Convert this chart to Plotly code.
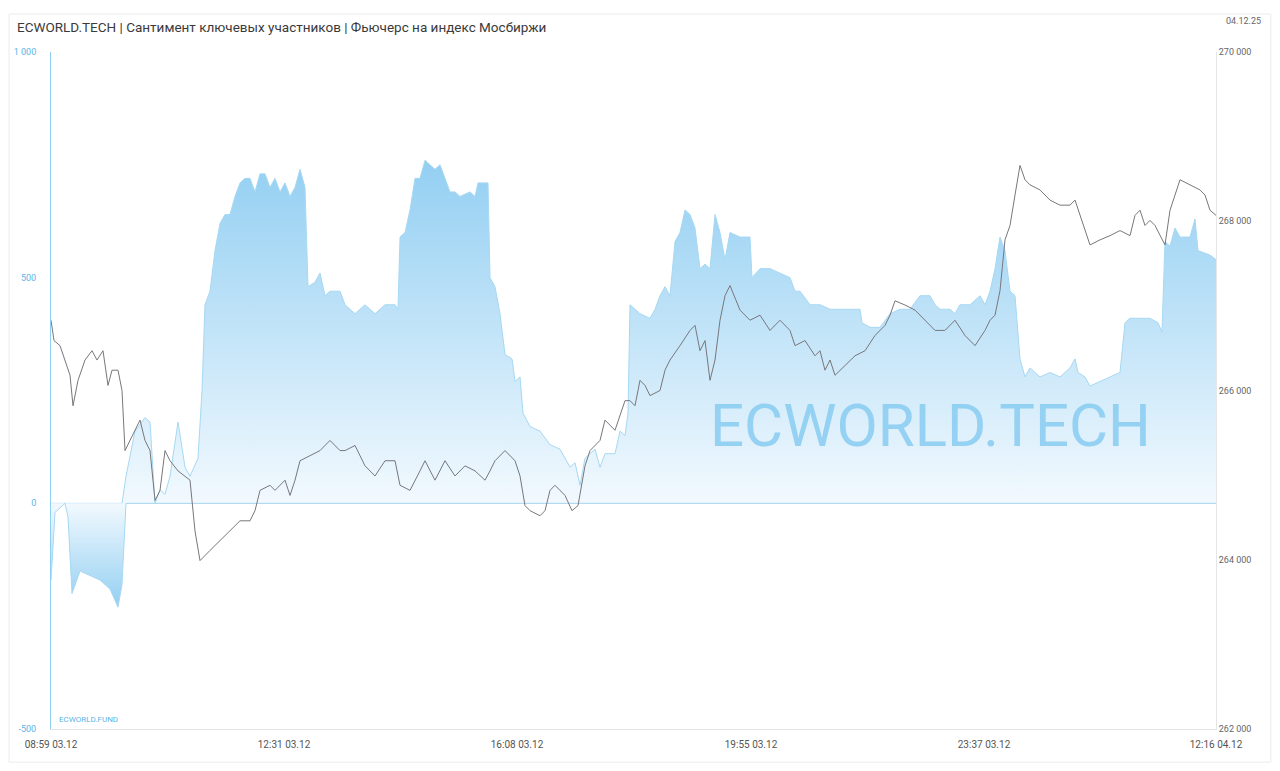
import plotly.graph_objects as go

# bar index along the time axis (ticks every 233 bars)
tick_bars = [0, 233, 466, 700, 933, 1165]
tick_labels = ["08:59 03.12", "12:31 03.12", "16:08 03.12", "19:55 03.12", "23:37 03.12", "12:16 04.12"]

sent_x = [0, 4, 9, 14, 17, 21, 29, 39, 49, 59, 67, 71, 75, 84, 94, 99, 104, 109, 114, 119, 127, 134, 139, 147,
          151, 154, 159, 164, 169, 174, 179, 184, 189, 194, 199, 204, 209, 214, 219, 224, 229, 234, 239, 244,
          249, 254, 257, 264, 269, 274, 279, 289, 294, 304, 314, 324, 334, 344, 347, 349, 354, 359, 364, 369,
          374, 379, 384, 389, 394, 399, 404, 409, 419, 424, 427, 437, 439, 444, 449, 454, 461, 464, 469, 472,
          479, 489, 499, 509, 519, 524, 529, 534, 544, 549, 554, 564, 569, 574, 577, 579, 589, 599, 604, 609,
          614, 619, 624, 629, 634, 639, 644, 649, 654, 659, 664, 669, 674, 679, 689, 699, 701, 709, 719, 729,
          739, 744, 749, 759, 769, 779, 789, 799, 809, 811, 819, 829, 839, 849, 859, 869, 879, 884, 889, 899,
          904, 909, 919, 929, 934, 939, 944, 949, 954, 959, 964, 969, 974, 979, 989, 999, 1009, 1019, 1024,
          1027, 1034, 1039, 1049, 1059, 1069, 1074, 1079, 1089, 1099, 1107, 1111, 1114, 1119, 1124, 1129,
          1139, 1144, 1147, 1159, 1165]
sentiment = [-170, -20, -10, 0, -30, -200, -150, -160, -170, -190, -230, -180, 60, 160, 190, 180, 0, 30, 20,
             60, 180, 80, 60, 100, 250, 440, 470, 560, 620, 640, 640, 680, 710, 720, 720, 690, 730, 730, 700,
             720, 690, 710, 680, 700, 740, 700, 480, 490, 510, 460, 470, 470, 440, 420, 440, 420, 440, 440,
             430, 590, 600, 650, 720, 720, 760, 750, 740, 750, 720, 690, 690, 680, 690, 680, 710, 710, 500,
             480, 420, 330, 320, 270, 280, 200, 170, 160, 130, 120, 80, 90, 40, 100, 120, 80, 110, 110, 160,
             150, 200, 440, 420, 410, 430, 460, 480, 460, 580, 600, 650, 640, 610, 520, 530, 520, 640, 600,
             540, 600, 590, 590, 500, 520, 520, 510, 500, 470, 470, 440, 440, 430, 430, 430, 430, 400, 390,
             390, 420, 430, 430, 460, 460, 440, 430, 430, 420, 440, 440, 460, 440, 470, 520, 590, 560, 470,
             460, 320, 280, 300, 280, 290, 280, 300, 320, 290, 280, 260, 270, 280, 290, 400, 410, 410, 410,
             400, 380, 580, 570, 610, 590, 590, 630, 560, 550, 540]

price_x = [0, 3, 9, 14, 19, 22, 27, 34, 41, 46, 52, 57, 61, 67, 71, 74, 79, 84, 89, 94, 99, 104, 109, 114,
           119, 127, 134, 139, 144, 149, 159, 169, 179, 189, 199, 204, 209, 219, 224, 234, 239, 244, 249, 259,
           269, 279, 289, 294, 304, 314, 324, 334, 344, 349, 359, 369, 374, 384, 394, 404, 414, 424, 434, 439,
           444, 454, 464, 469, 474, 479, 489, 494, 499, 504, 514, 521, 527, 534, 539, 549, 554, 564, 574, 579,
           584, 589, 594, 599, 609, 614, 619, 629, 639, 644, 649, 654, 659, 664, 669, 674, 679, 689, 699, 709,
           719, 729, 739, 744, 754, 764, 769, 774, 779, 784, 794, 804, 814, 824, 834, 839, 844, 854, 864, 874,
           884, 894, 904, 914, 924, 934, 939, 944, 949, 954, 959, 964, 969, 974, 979, 989, 999, 1009, 1019,
           1024, 1029, 1039, 1049, 1059, 1069, 1079, 1084, 1089, 1094, 1099, 1104, 1109, 1114, 1119, 1129,
           1139, 1149, 1154, 1159, 1165]
price = [266830, 266590, 266530, 266360, 266180, 265820, 266120, 266360, 266470, 266360, 266470, 266060,
         266240, 266240, 266000, 265290, 265410, 265530, 265650, 265410, 265290, 264700, 264820, 265290,
         265170, 265050, 264990, 264940, 264340, 263990, 264110, 264230, 264340, 264460, 264460, 264580,
         264820, 264880, 264820, 264940, 264760, 264940, 265170, 265230, 265290, 265410, 265290, 265290,
         265350, 265110, 264990, 265170, 265170, 264880, 264820, 265050, 265170, 264940, 265170, 264990,
         265110, 265050, 264940, 265050, 265170, 265290, 265170, 264990, 264640, 264580, 264520, 264580,
         264820, 264880, 264760, 264580, 264640, 265110, 265290, 265410, 265650, 265530, 265880, 265880,
         265820, 266120, 266060, 265940, 266000, 266240, 266360, 266530, 266710, 266770, 266470, 266590,
         266120, 266360, 266830, 267120, 267240, 266950, 266830, 266890, 266710, 266830, 266710, 266530,
         266590, 266410, 266470, 266240, 266360, 266180, 266300, 266410, 266470, 266650, 266770, 266890,
         267060, 267010, 266950, 266830, 266710, 266710, 266830, 266650, 266530, 266710, 266830, 266890,
         267180, 267780, 267950, 268310, 268660, 268490, 268430, 268370, 268250, 268190, 268190, 268250,
         268070, 267720, 267780, 267830, 267890, 267830, 268070, 268130, 267950, 268010, 267950, 267830,
         267720, 268130, 268490, 268430, 268370, 268310, 268130, 268070, 268130]

sent_pos = [max(v, 0) for v in sentiment]
sent_neg = [min(v, 0) for v in sentiment]
blues = [[0, "rgba(242,249,254,1)"], [1, "#93cff2"]]

fig = go.Figure()
fig.add_trace(go.Scatter(
    x=sent_x, y=sent_pos, mode="lines", fill="tozeroy",
    line=dict(color="#a6d8f3", width=1),
    fillgradient=dict(type="vertical", start=0, stop=760, colorscale=blues),
    showlegend=False, hoverinfo="skip"))
fig.add_trace(go.Scatter(
    x=sent_x, y=sent_neg, mode="lines", fill="tozeroy",
    line=dict(color="#a6d8f3", width=1),
    fillgradient=dict(type="vertical", start=0, stop=-230, colorscale=blues),
    showlegend=False, hoverinfo="skip"))
fig.add_trace(go.Scatter(
    x=price_x, y=price, mode="lines", yaxis="y2",
    line=dict(color="#77777c", width=1), showlegend=False))

fig.update_layout(
    width=1264, height=755,
    margin=dict(l=43, r=56, t=44, b=34),
    paper_bgcolor="white", plot_bgcolor="white",
    font=dict(family="Roboto", color="#666666", size=10),
    xaxis=dict(range=[0, 1165], tickvals=tick_bars, ticktext=tick_labels, showgrid=False,
               zeroline=False, showline=True, linecolor="#e3e3e3", ticks="", ticklabelstandoff=6,
               automargin=False, tickfont=dict(size=10, color="#555555")),
    yaxis=dict(range=[-500, 1000], tickvals=[-500, 0, 500, 1000], ticktext=["-500", "0", "500", "1 000"],
               showgrid=False, zeroline=True, zerolinecolor="#e6e6e6", zerolinewidth=1,
               showline=True, linecolor="#8fd0f2", ticks="", ticklabelstandoff=12, automargin=False,
               tickfont=dict(size=9, color="#5ab4e6")),
    yaxis2=dict(range=[262000, 270000], overlaying="y", side="right",
                tickvals=[262000, 264000, 266000, 268000, 270000],
                ticktext=["262 000", "264 000", "266 000", "268 000", "270 000"],
                showgrid=False, zeroline=False, showline=True, linecolor="#e6e6e6", ticks="",
                automargin=False, tickfont=dict(size=9, color="#666666")),
)

fig.add_shape(type="rect", xref="paper", yref="paper", x0=-0.036, x1=1.047, y0=-0.049, y1=1.056,
              line=dict(color="#ececec", width=1), layer="below")

fig.add_annotation(text="ECWORLD.TECH | Сантимент ключевых участников | Фьючерс на индекс Мосбиржи",
                   xref="paper", yref="paper", x=-0.031, y=1.037, xanchor="left", yanchor="middle",
                   showarrow=False, font=dict(size=13.5, color="#3a3a3a"))
fig.add_annotation(text="04.12.25", xref="paper", yref="paper", x=1.040, y=1.046, xanchor="right",
                   yanchor="middle", showarrow=False, font=dict(size=9, color="#666666"))
fig.add_annotation(text="ECWORLD.TECH", xref="paper", yref="paper", x=0.755, y=0.449,
                   xanchor="center", yanchor="middle", showarrow=False,
                   font=dict(size=60, color="rgba(140,205,242,0.9)", family="Roboto"))
fig.add_annotation(text="ECWORLD.FUND", xref="paper", yref="paper", x=0.005, y=0.005, xanchor="left",
                   yanchor="bottom", showarrow=False, font=dict(size=8, color="#5ab4e6"))

fig.write_html("out.html")
